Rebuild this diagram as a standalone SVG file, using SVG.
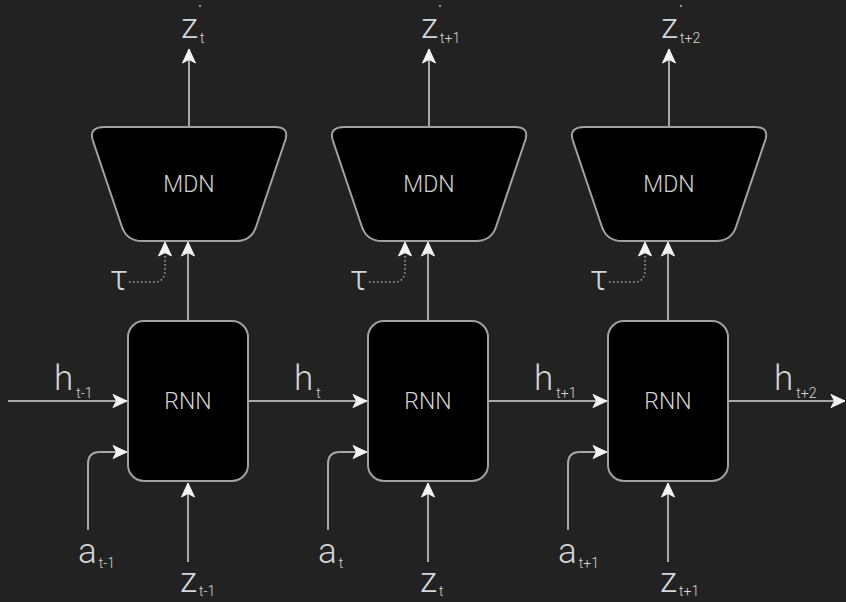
<svg xmlns="http://www.w3.org/2000/svg" width="846" height="602" viewBox="0 0 846 602">
  <style>
    .node { fill: #000000; stroke: #a3a3a3; stroke-width: 2; }
    .ntext { fill: #cfcfcf; font-family: Roboto, "Liberation Sans", sans-serif; font-weight: 300; font-size: 23px; text-anchor: middle; }
    .lbl { fill: #d6d6d6; font-family: Roboto, "Liberation Sans", sans-serif; font-weight: 300; font-size: 35px; }
    .sub { font-size: 14px; }
    .edge { fill: none; stroke: #a8a8a8; stroke-width: 2; }
    .dot { fill: none; stroke: #a8a8a8; stroke-width: 1.5; stroke-dasharray: 1.5 2.5; }
    .prime { fill: #bdbdbd; }
  </style>
  <defs>
    <marker id="arr" viewBox="-15 -8 17 16" markerWidth="17" markerHeight="16" refX="0" refY="0" orient="auto" markerUnits="userSpaceOnUse">
      <path d="M0,0 L-14,-6.5 L-10.5,0 L-14,6.5 Z" fill="#f2f2f2" stroke="#f2f2f2" stroke-width="1" stroke-linejoin="round"/>
    </marker>
  </defs>
  <rect width="846" height="602" fill="#222222"/>

  <!-- connectors -->
  <g id="connectors">
    <!-- hidden state chain -->
    <path class="edge" d="M8,401 L127,401" marker-end="url(#arr)"/>
    <path class="edge" d="M248,401 L367,401" marker-end="url(#arr)"/>
    <path class="edge" d="M488,401 L607,401" marker-end="url(#arr)"/>
    <path class="edge" d="M728,401 L845,401" marker-end="url(#arr)"/>
    <!-- actions into RNN -->
    <path class="edge" d="M88,530 L88,464 Q88,452 100,452 L127,452" marker-end="url(#arr)"/>
    <path class="edge" d="M328,530 L328,464 Q328,452 340,452 L367,452" marker-end="url(#arr)"/>
    <path class="edge" d="M568,530 L568,464 Q568,452 580,452 L607,452" marker-end="url(#arr)"/>
    <!-- latent inputs into RNN -->
    <path class="edge" d="M188,562 L188,483" marker-end="url(#arr)"/>
    <path class="edge" d="M428,562 L428,483" marker-end="url(#arr)"/>
    <path class="edge" d="M668,562 L668,483" marker-end="url(#arr)"/>
    <!-- RNN to MDN -->
    <path class="edge" d="M188,321 L188,242" marker-end="url(#arr)"/>
    <path class="edge" d="M428,321 L428,242" marker-end="url(#arr)"/>
    <path class="edge" d="M668,321 L668,242" marker-end="url(#arr)"/>
    <!-- temperature into MDN -->
    <path class="dot" d="M129,282 L154,282 Q165,282 165,270 L165,242" marker-end="url(#arr)"/>
    <path class="dot" d="M369,282 L394,282 Q405,282 405,270 L405,242" marker-end="url(#arr)"/>
    <path class="dot" d="M609,282 L634,282 Q645,282 645,270 L645,242" marker-end="url(#arr)"/>
    <!-- MDN outputs -->
    <path class="edge" d="M189,127 L189,49" marker-end="url(#arr)"/>
    <path class="edge" d="M429,127 L429,49" marker-end="url(#arr)"/>
    <path class="edge" d="M669,127 L669,49" marker-end="url(#arr)"/>
  </g>

  <!-- MDN trapezoids -->
  <g id="mdn1">
    <path class="node" d="M105,127 L275,127 Q290,127 285,141 L256,227 Q251,241 236,241 L142,241 Q127,241 122,227 L93,141 Q88,127 105,127 Z"/>
    <text class="ntext" x="189" y="192">MDN</text>
  </g>
  <g id="mdn2">
    <path class="node" d="M345,127 L515,127 Q530,127 525,141 L496,227 Q491,241 476,241 L382,241 Q367,241 362,227 L333,141 Q328,127 345,127 Z"/>
    <text class="ntext" x="429" y="192">MDN</text>
  </g>
  <g id="mdn3">
    <path class="node" d="M585,127 L755,127 Q770,127 765,141 L736,227 Q731,241 716,241 L622,241 Q607,241 602,227 L573,141 Q568,127 585,127 Z"/>
    <text class="ntext" x="669" y="192">MDN</text>
  </g>

  <!-- RNN cells -->
  <g id="rnn1">
    <rect class="node" x="128" y="321" width="120" height="160" rx="16"/>
    <text class="ntext" x="188" y="409">RNN</text>
  </g>
  <g id="rnn2">
    <rect class="node" x="368" y="321" width="120" height="160" rx="16"/>
    <text class="ntext" x="428" y="409">RNN</text>
  </g>
  <g id="rnn3">
    <rect class="node" x="608" y="321" width="120" height="160" rx="16"/>
    <text class="ntext" x="668" y="409">RNN</text>
  </g>

  <!-- labels -->
  <g id="labels">
    <!-- outputs -->
    <text class="lbl" x="181" y="38">z<tspan class="sub" dx="2" dy="5">t</tspan></text>
    <circle class="prime" cx="200" cy="6" r="1"/>
    <text class="lbl" x="421" y="38">z<tspan class="sub" dx="2" dy="5">t+1</tspan></text>
    <circle class="prime" cx="440" cy="6" r="1"/>
    <text class="lbl" x="661" y="38">z<tspan class="sub" dx="2" dy="5">t+2</tspan></text>
    <circle class="prime" cx="681" cy="6" r="1"/>

    <!-- hidden states -->
    <text class="lbl" x="54" y="390">h<tspan class="sub" dx="3" dy="8">t-1</tspan></text>
    <text class="lbl" x="294" y="390">h<tspan class="sub" dx="3" dy="8">t</tspan></text>
    <text class="lbl" x="534" y="390">h<tspan class="sub" dx="3" dy="8">t+1</tspan></text>
    <text class="lbl" x="774" y="390">h<tspan class="sub" dx="3" dy="8">t+2</tspan></text>

    <!-- temperature -->
    <text class="lbl" x="110" y="290">τ</text>
    <text class="lbl" x="350" y="290">τ</text>
    <text class="lbl" x="590" y="290">τ</text>

    <!-- actions -->
    <text class="lbl" x="78" y="563">a<tspan class="sub" dx="2" dy="5">t-1</tspan></text>
    <text class="lbl" x="318" y="563">a<tspan class="sub" dx="2" dy="5">t</tspan></text>
    <text class="lbl" x="558" y="563">a<tspan class="sub" dx="2" dy="5">t+1</tspan></text>

    <!-- latent inputs -->
    <text class="lbl" x="180" y="592">z<tspan class="sub" dx="2" dy="4">t-1</tspan></text>
    <text class="lbl" x="420" y="592">z<tspan class="sub" dx="2" dy="4">t</tspan></text>
    <text class="lbl" x="660" y="592">z<tspan class="sub" dx="2" dy="4">t+1</tspan></text>
  </g>
</svg>
